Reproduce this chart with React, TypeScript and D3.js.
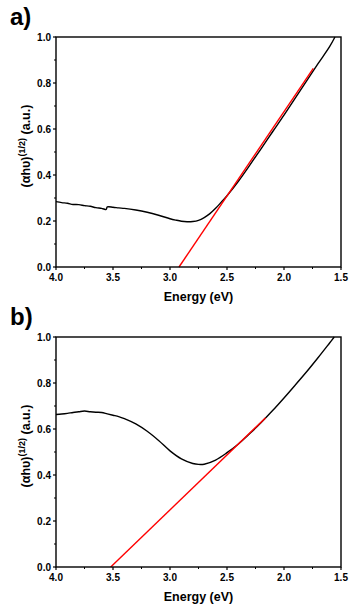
import React from "react";
import { scaleLinear, line, range, curveCatmullRom } from "d3";

// panel a: (energy eV, value)
const energyA = [4.0, 3.95, 3.9, 3.85, 3.8, 3.75, 3.7, 3.65, 3.6, 3.58, 3.56, 3.55, 3.5, 3.45, 3.4, 3.3, 3.2, 3.1, 3.0, 2.95, 2.9, 2.85, 2.8, 2.75, 2.7, 2.65, 2.6, 2.55, 2.5, 2.4, 2.3, 2.2, 2.1, 2.0, 1.9, 1.8, 1.7, 1.6, 1.553];
const valueA = [0.284, 0.280, 0.277, 0.272, 0.271, 0.267, 0.264, 0.258, 0.255, 0.252, 0.250, 0.261, 0.260, 0.257, 0.255, 0.248, 0.238, 0.225, 0.210, 0.204, 0.199, 0.197, 0.198, 0.203, 0.215, 0.232, 0.255, 0.282, 0.310, 0.373, 0.443, 0.515, 0.588, 0.660, 0.735, 0.810, 0.885, 0.958, 1.0];
const fitA = [[2.921, 0.0], [1.743, 0.864]];

// panel b
const energyB = [4.0, 3.95, 3.9, 3.85, 3.8, 3.75, 3.7, 3.65, 3.6, 3.55, 3.5, 3.45, 3.4, 3.3, 3.2, 3.1, 3.0, 2.9, 2.8, 2.75, 2.7, 2.6, 2.5, 2.4, 2.3, 2.2, 2.1, 2.0, 1.9, 1.8, 1.7, 1.6, 1.559];
const valueB = [0.663, 0.665, 0.668, 0.672, 0.675, 0.678, 0.675, 0.673, 0.672, 0.666, 0.660, 0.654, 0.645, 0.622, 0.590, 0.550, 0.505, 0.470, 0.450, 0.446, 0.447, 0.465, 0.497, 0.535, 0.580, 0.628, 0.680, 0.735, 0.792, 0.850, 0.911, 0.974, 1.0];
const fitB = [[3.52, 0.0], [2.161, 0.649]];

const xTicks = [4.0, 3.5, 3.0, 2.5, 2.0, 1.5];
const yTicks = [0.0, 0.2, 0.4, 0.6, 0.8, 1.0];

const font = "'Liberation Sans', Arial, sans-serif";

function Panel({ top, tag, energy, values, fit }) {
  const left = 56, right = 341, h = 230;
  const x = scaleLinear().domain([4.0, 1.5]).range([left, right]);
  const y = scaleLinear().domain([0, 1]).range([top + h, top]);
  const path = line().x(d => x(d[0])).y(d => y(d[1]));
  const smooth = line().x(d => x(d[0])).y(d => y(d[1])).curve(curveCatmullRom);
  const pts = energy.map((e, i) => [e, values[i]]);
  const minorX = range(0, 5).map(i => 3.75 - i * 0.5);
  const minorY = range(0, 5).map(i => 0.1 + i * 0.2);
  return (
    <g>
      <text x={10} y={top - 12} fontFamily={font} fontWeight="bold" fontSize={24}>{tag}</text>
      <path d={smooth(pts)} fill="none" stroke="#000" strokeWidth={1.4} />
      <path d={path(fit)} fill="none" stroke="#ff0000" strokeWidth={1.4} />
      <rect x={left} y={top} width={right - left} height={h} fill="none" stroke="#000" strokeWidth={1.4} />
      {xTicks.map(t => (
        <g key={t}>
          <line x1={x(t)} x2={x(t)} y1={top + h} y2={top + h + 3} stroke="#000" strokeWidth={1.2} />
          <text x={x(t)} y={top + h + 14} textAnchor="middle" fontFamily={font} fontWeight="bold" fontSize={10}>{t.toFixed(1)}</text>
        </g>
      ))}
      {minorX.map(t => (
        <line key={t} x1={x(t)} x2={x(t)} y1={top + h} y2={top + h + 2} stroke="#000" strokeWidth={1} />
      ))}
      {yTicks.map(t => (
        <g key={t}>
          <line x1={left - 3} x2={left} y1={y(t)} y2={y(t)} stroke="#000" strokeWidth={1.2} />
          <text x={left - 5} y={y(t) + 3.5} textAnchor="end" fontFamily={font} fontWeight="bold" fontSize={10}>{t.toFixed(1)}</text>
        </g>
      ))}
      {minorY.map(t => (
        <line key={t} x1={left - 2} x2={left} y1={y(t)} y2={y(t)} stroke="#000" strokeWidth={1} />
      ))}
      <text x={(left + right) / 2} y={top + h + 34} textAnchor="middle" fontFamily={font} fontWeight="bold" fontSize={12.5}>Energy (eV)</text>
      <text transform={`translate(30, ${top + h / 2 - 6}) rotate(-90)`} textAnchor="middle" fontFamily={font} fontWeight="bold" fontSize={12.5}>
        (αhυ)<tspan fontSize={9} dy={-5}>(1/2)</tspan><tspan dy={5}> (a.u.)</tspan>
      </text>
    </g>
  );
}

export default function App() {
  return (
    <svg width={351} height={608} style={{ position: "absolute", left: 0, top: 0, background: "#fff" }}>
      <Panel top={37} tag="a)" energy={energyA} values={valueA} fit={fitA} />
      <Panel top={337} tag="b)" energy={energyB} values={valueB} fit={fitB} />
    </svg>
  );
}
